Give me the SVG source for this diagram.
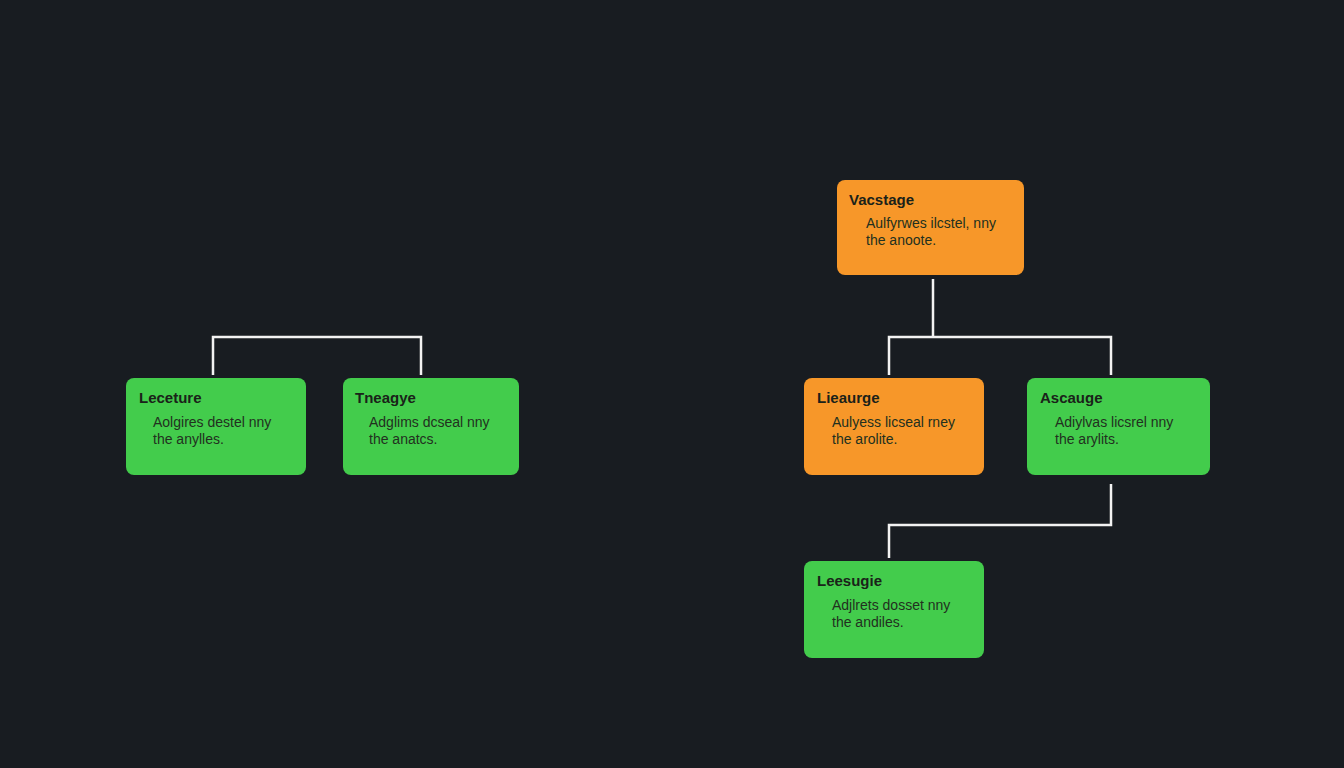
<svg xmlns="http://www.w3.org/2000/svg" width="1344" height="768" viewBox="0 0 1344 768">
  <style>
    .green { fill: #43cc4c; }
    .orange { fill: #f79729; }
    .title { font-family: "Liberation Sans", Arial, sans-serif; font-size: 15px; font-weight: bold; fill: #1a2219; }
    .body { font-family: "Liberation Sans", Arial, sans-serif; font-size: 14px; fill: #22301f; }
    .wire { fill: none; stroke: #f2f2f2; stroke-width: 2.5; stroke-linejoin: miter; }
  </style>
  <rect width="1344" height="768" fill="#181c21"/>

  <g id="connectors">
    <path class="wire" d="M213 375 V337 H421 V375"/>
    <path class="wire" d="M933 279 V337"/>
    <path class="wire" d="M889 375 V337 H1111 V375"/>
    <path class="wire" d="M1111 484 V525 H889 V558"/>
  </g>

  <g id="leceture">
    <rect class="green" x="126" y="378" width="180" height="97" rx="8"/>
    <text class="title" x="139" y="403">Leceture</text>
    <text class="body" x="153" y="427">Aolgires destel nny</text>
    <text class="body" x="153" y="444">the anylles.</text>
  </g>

  <g id="tneagye">
    <rect class="green" x="343" y="378" width="176" height="97" rx="8"/>
    <text class="title" x="355" y="403">Tneagye</text>
    <text class="body" x="369" y="427">Adglims dcseal nny</text>
    <text class="body" x="369" y="444">the anatcs.</text>
  </g>

  <g id="vacstage">
    <rect class="orange" x="837" y="180" width="187" height="95" rx="8"/>
    <text class="title" x="849" y="205">Vacstage</text>
    <text class="body" x="866" y="228">Aulfyrwes ilcstel, nny</text>
    <text class="body" x="866" y="245">the anoote.</text>
  </g>

  <g id="lieaurge">
    <rect class="orange" x="804" y="378" width="180" height="97" rx="8"/>
    <text class="title" x="817" y="403">Lieaurge</text>
    <text class="body" x="832" y="427">Aulyess licseal rney</text>
    <text class="body" x="832" y="444">the arolite.</text>
  </g>

  <g id="ascauge">
    <rect class="green" x="1027" y="378" width="183" height="97" rx="8"/>
    <text class="title" x="1040" y="403">Ascauge</text>
    <text class="body" x="1055" y="427">Adiylvas licsrel nny</text>
    <text class="body" x="1055" y="444">the arylits.</text>
  </g>

  <g id="leesugie">
    <rect class="green" x="804" y="561" width="180" height="97" rx="8"/>
    <text class="title" x="817" y="586">Leesugie</text>
    <text class="body" x="832" y="610">Adjlrets dosset nny</text>
    <text class="body" x="832" y="627">the andiles.</text>
  </g>
</svg>
